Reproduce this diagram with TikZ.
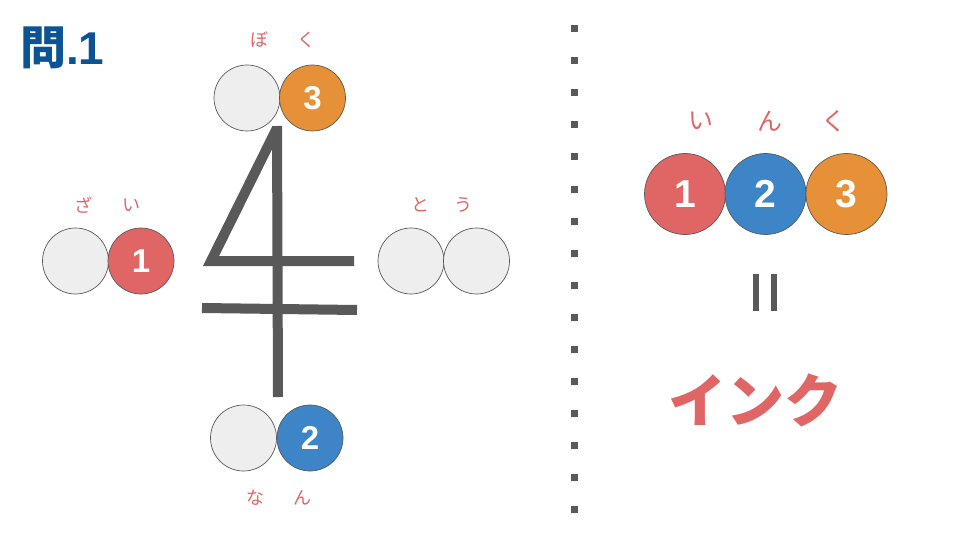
\documentclass[tikz,border=0pt]{standalone}
\usepackage{fontspec}
\setmainfont{Liberation Sans}
\newfontfamily\jp{Noto Sans CJK JP}
\definecolor{cred}{HTML}{E06666}
\definecolor{cblue}{HTML}{3D85C6}
\definecolor{corange}{HTML}{E69138}
\definecolor{cgray}{HTML}{EEEEEE}
\definecolor{cdark}{HTML}{595959}
\definecolor{ctitle}{HTML}{0B5394}
\definecolor{clabel}{HTML}{E06666}
\begin{document}
\begin{tikzpicture}[x=1pt,y=-1pt,
  ball/.style={circle, draw=cdark, line width=0.7pt, minimum size=66pt, inner sep=0pt,
    text=white, font=\bfseries\fontsize{33}{33}\selectfont},
  emptyball/.style={ball, fill=cgray},
  bigball/.style={ball, minimum size=81pt, font=\bfseries\fontsize{39}{39}\selectfont},
  kana/.style={text=clabel, font=\jp\fontsize{18}{18}\selectfont, inner sep=0pt},
  bigkana/.style={kana, font=\jp\fontsize{25}{25}\selectfont},
  stroke4/.style={draw=cdark, line width=10pt}]
\useasboundingbox (0,0) rectangle (960,540);
% title
\node[anchor=west, text=ctitle, font=\bfseries\fontsize{46}{46}\selectfont, inner sep=0pt] (title) at (20,48) {{\jp 問}.1};
% strokes of the character
\draw[stroke4, line join=miter] (277,128) -- (211,261) -- (354,261);
\draw[stroke4] (202,308) -- (357,310);
\draw[stroke4] (277,126) -- (278,397);
% top pair
\node[emptyball] (t1) at (247,98) {};
\node[ball, fill=corange] (t2) at (312.5,98) {3};
\node[kana] (tk1) at (259,40) {ぼ};
\node[kana] (tk2) at (306,40) {く};
% left pair
\node[emptyball] (l1) at (75.5,261) {};
\node[ball, fill=cred] (l2) at (141,261) {1};
\node[kana] (lk1) at (83,205) {ざ};
\node[kana] (lk2) at (131,205) {い};
% right pair
\node[emptyball] (r1) at (411,261) {};
\node[emptyball] (r2) at (476.5,261) {};
\node[kana] (rk1) at (420,205) {と};
\node[kana] (rk2) at (463,205) {う};
% bottom pair
\node[emptyball] (b1) at (243.5,438) {};
\node[ball, fill=cblue] (b2) at (310,438) {2};
\node[kana] (bk1) at (255,498) {な};
\node[kana] (bk2) at (302,498) {ん};
% dotted divider
\foreach \i in {0,...,15} \fill[cdark] (570.5,25.5+32*\i) rectangle ++(7,7);
% right side
\node[bigball, fill=cred] (c1) at (685,194) {1};
\node[bigball, fill=cblue] (c2) at (765.5,194) {2};
\node[bigball, fill=corange] (c3) at (846.5,194) {3};
\node[bigkana] (ck1) at (701,121) {い};
\node[bigkana] (ck2) at (770,121) {ん};
\node[bigkana] (ck3) at (834,121) {く};
\fill[cdark] (753,274) rectangle (759,311);
\fill[cdark] (771,274) rectangle (777,311);
\node[text=cred, font=\jp\bfseries\fontsize{58}{58}\selectfont, inner sep=0pt] (ink) at (755,400) {インク};
\end{tikzpicture}
\end{document}
